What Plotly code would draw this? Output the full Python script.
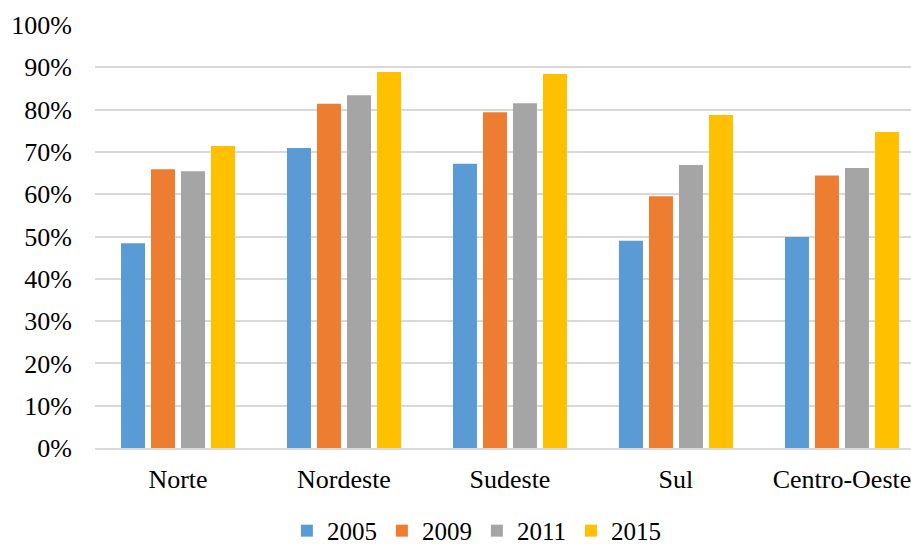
import plotly.graph_objects as go

categories = ["Norte", "Nordeste", "Sudeste", "Sul", "Centro-Oeste"]
years = ["2005", "2009", "2011", "2015"]
v2005 = [0.484, 0.709, 0.672, 0.490, 0.499]
v2009 = [0.659, 0.814, 0.794, 0.595, 0.644]
v2011 = [0.654, 0.834, 0.815, 0.669, 0.662]
v2015 = [0.714, 0.889, 0.884, 0.787, 0.747]
colors = ["#5B9BD5", "#ED7D31", "#A5A5A5", "#FFC000"]

series = [v2005, v2009, v2011, v2015]

fig = go.Figure()
for name, vals, col in zip(years, series, colors):
    fig.add_trace(go.Bar(
        x=categories, y=vals, name=name,
        marker=dict(color=col, line=dict(width=0)),
    ))

serif = "Liberation Serif, Times New Roman, serif"
font = dict(family=serif, size=26, color="#000000")

fig.update_layout(
    width=911, height=544,
    margin=dict(l=95, r=0, t=25, b=96, autoexpand=False),
    paper_bgcolor="white", plot_bgcolor="white",
    barmode="group", bargap=0.277, bargroupgap=0.2,
    font=font,
    showlegend=True,
    legend=dict(orientation="h", x=0.468, xanchor="center", y=-0.196, yanchor="middle",
                font=dict(family=serif, size=25, color="#000000"),
                itemwidth=30, tracegroupgap=0),
    xaxis=dict(range=[-0.5, 4.416], showgrid=False, showline=True, linecolor="#d9d9d9",
               linewidth=1.5, ticks="", tickfont=font, automargin=False,
               ticklabelstandoff=7),
    yaxis=dict(range=[0, 1], dtick=0.1, tickformat=".0%", showgrid=True,
               gridcolor="#d9d9d9", gridwidth=1.5, zeroline=False, showline=False,
               ticks="", ticklen=0, tickfont=font, automargin=False,
               ticklabelstandoff=22),
)

fig.write_html("out.html",
               config={"displayModeBar": False},
               post_script="document.body.style.margin='0';document.body.style.overflow='hidden';")
